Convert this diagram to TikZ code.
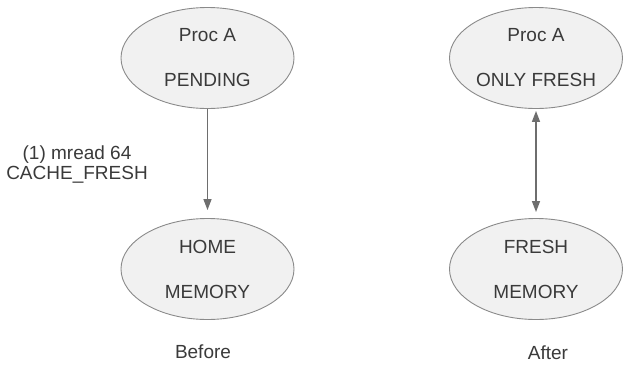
\documentclass[tikz,border=0pt]{standalone}
\usepackage{fontspec}
\setmainfont{Liberation Sans}
\usetikzlibrary{shapes.geometric,arrows.meta}
\definecolor{edgegray}{HTML}{8A8A8A}
\definecolor{fillgray}{HTML}{F1F1F1}
\definecolor{inkgray}{HTML}{3A3A3A}
\definecolor{arrowgray}{HTML}{6E6E6E}
\tikzset{
  state/.style={ellipse, draw=edgegray, line width=0.9pt, fill=fillgray,
    minimum width=173pt, minimum height=101pt, inner sep=0pt,
    align=center, text=inkgray, font=\fontsize{19}{45}\selectfont},
  note/.style={align=center, text=inkgray, font=\fontsize{19}{20}\selectfont},
  link/.style={draw=arrowgray, line width=1.4pt},
  tri/.tip={Triangle[length=11pt, width=8pt]}
}
\begin{document}
\begin{tikzpicture}[x=1pt, y=-1pt]
  \useasboundingbox (0,0) rectangle (625,370);

  % before
  \node[state] (procA)  at (207.5,58)  {Proc A\\PENDING};
  \node[state] (home)   at (207.5,269) {HOME\\MEMORY};
  \draw[link, -{tri}, shorten >=8pt] (procA) -- (home);
  \node[note] (req) at (77,165) {(1) mread 64\\CACHE\_FRESH};
  \node[note] (before) at (203,352) {Before};

  % after
  \node[state] (procB)  at (536,58)  {Proc A\\ONLY FRESH};
  \node[state] (fresh)  at (536,269) {FRESH\\MEMORY};
  \draw[link, {tri}-{tri}, shorten <=2pt, shorten >=6pt] (procB) -- (fresh);
  \node[note] (after) at (548,353) {After};
\end{tikzpicture}
\end{document}
